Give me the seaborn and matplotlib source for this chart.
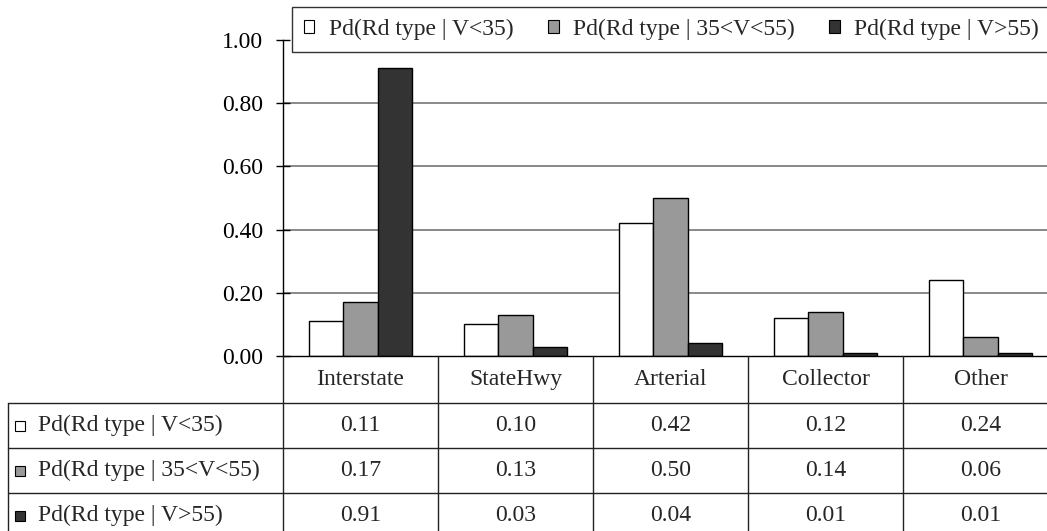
import numpy as np
import pandas as pd
import matplotlib
matplotlib.use("Agg")
import matplotlib.pyplot as plt
import matplotlib.transforms as mtransforms
from matplotlib.patches import Patch, Rectangle
from matplotlib.lines import Line2D
import seaborn as sns

# ---- data ----
categories = ["Interstate", "StateHwy", "Arterial", "Collector", "Other"]
series_names = ["Pd(Rd type | V<35)", "Pd(Rd type | 35<V<55)", "Pd(Rd type | V>55)"]
v_low = [0.11, 0.10, 0.42, 0.12, 0.24]
v_mid = [0.17, 0.13, 0.50, 0.14, 0.06]
v_high = [0.91, 0.03, 0.04, 0.01, 0.01]
y_ticks = [0.0, 0.2, 0.4, 0.6, 0.8, 1.0]
colors = ["#ffffff", "#999999", "#333333"]

series_values = [v_low, v_mid, v_high]
df = pd.DataFrame({
    "category": categories * 3,
    "series": np.repeat(series_names, len(categories)),
    "value": v_low + v_mid + v_high,
})

sns.set_theme(style="white")
plt.rcParams["font.family"] = ["Liberation Serif", "DejaVu Serif"]

W, H = 1047, 531
FS = 17
LFS = 17
fig = plt.figure(figsize=(W / 100, H / 100), dpi=100)


def fx(px):
    return px / W


def fy(py):
    return 1 - py / H


ax = fig.add_axes([fx(283), fy(356), 775 / W, 316 / H])
sns.barplot(data=df, x="category", y="value", hue="series", hue_order=series_names,
            order=categories, palette=colors, edgecolor="black", linewidth=1,
            width=0.668, saturation=1, legend=False, ax=ax, zorder=2)

ax.set_xlim(-0.5, len(categories) - 0.5)
ax.set_ylim(0, 1)
ax.set_yticks(y_ticks)
ax.set_yticklabels([f"{t:.2f}" for t in y_ticks], fontsize=FS, color="black")
ax.tick_params(axis="y", direction="inout", length=9.4, width=1, color="black", pad=9.7, left=True)
ax.set_xticks([])
ax.set_xlabel("")
ax.set_ylabel("")
for s in ["top", "right"]:
    ax.spines[s].set_visible(False)
for s in ["left", "bottom"]:
    ax.spines[s].set_color("black")
    ax.spines[s].set_linewidth(1)
    ax.spines[s].set_zorder(3)
for t in y_ticks[1:-1]:
    ax.axhline(t, color="#808080", lw=1.3, zorder=0.5)

# ---- data table ----
blend = mtransforms.blended_transform_factory(ax.transData, fig.transFigure)
row_top = [403, 448, 493]
row_h = 45
for py in row_top + [row_top[-1] + row_h]:
    fig.add_artist(Line2D([fx(8), fx(1070)], [fy(py)] * 2, transform=fig.transFigure,
                          color="#222222", lw=1))
for b in np.arange(-0.5, len(categories), 1.0):
    fig.add_artist(Line2D([b, b], [fy(356), fy(545)], transform=blend, color="#222222", lw=1))
fig.add_artist(Line2D([fx(8), fx(8)], [fy(403), fy(545)], transform=fig.transFigure,
                      color="#222222", lw=1))

for i, c in enumerate(categories):
    fig.text(i, fy(379.5), c, transform=blend, ha="center", va="center", fontsize=FS)

for r, (name, vals, col) in enumerate(zip(series_names, series_values, colors)):
    yc = row_top[r] + row_h / 2
    fig.add_artist(Rectangle((fx(15), fy(yc + 5.5)), 10 / W, 10 / H, transform=fig.transFigure,
                             facecolor=col, edgecolor="black", lw=0.8))
    fig.text(fx(38), fy(yc), name, ha="left", va="center", fontsize=FS)
    for i, v in enumerate(vals):
        fig.text(i, fy(yc), f"{v:.2f}", transform=blend, ha="center", va="center", fontsize=FS)

# ---- legend ----
handles = [Patch(facecolor=c, edgecolor="black", lw=0.8) for c in colors]
leg = fig.legend(handles, series_names, loc="upper left", bbox_to_anchor=(fx(292), fy(7)),
                 ncol=3, fontsize=LFS, frameon=True, fancybox=False, borderpad=0.5,
                 handlelength=0.45, handleheight=0.45, handletextpad=0.62,
                 columnspacing=1.45, borderaxespad=0, framealpha=1)
leg.get_frame().set_edgecolor("#333333")
leg.get_frame().set_linewidth(1.0)

fig.savefig("out.png", dpi=100)
